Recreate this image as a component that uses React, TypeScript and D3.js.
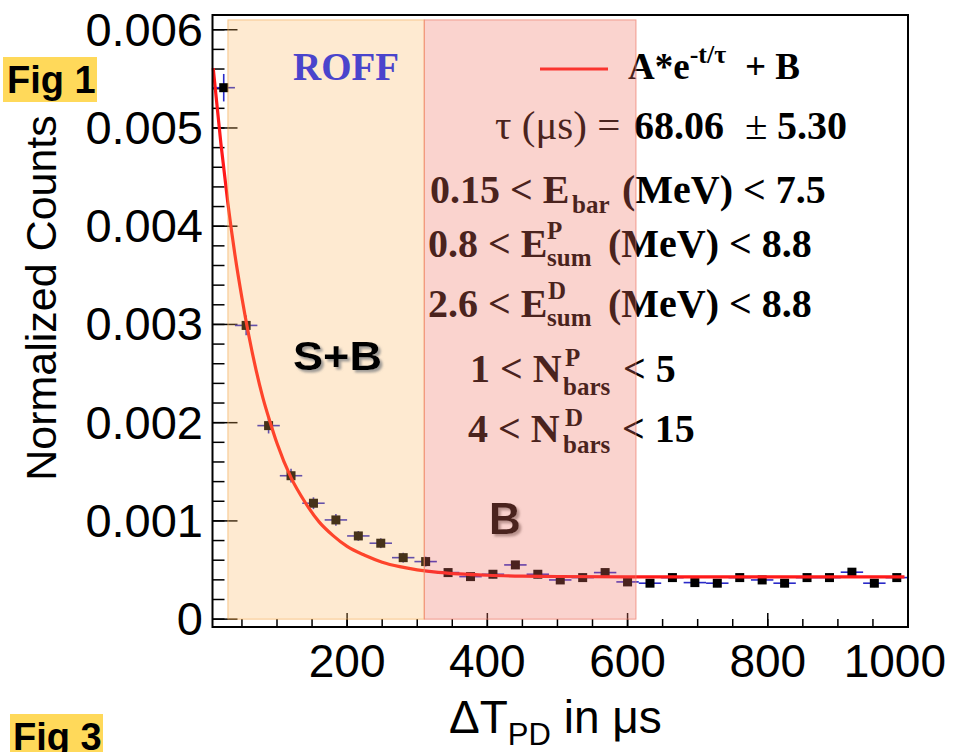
import React from "react";
import * as d3 from "d3";

// ---- data ----
const binCenters = [24, 56, 88, 120, 152, 184, 216, 248, 280, 312, 344, 376, 408, 440, 472, 504, 536, 568, 600, 632, 664, 696, 728, 760, 792, 824, 856, 888, 920, 952, 984];
const counts = [0.00541, 0.00299, 0.00197, 0.00146, 0.00118, 0.00101, 0.000847, 0.000773, 0.000626, 0.000586, 0.000474, 0.000433, 0.000457, 0.000552, 0.000457, 0.000399, 0.000423, 0.000474, 0.000379, 0.000366, 0.000423, 0.000372, 0.000366, 0.000423, 0.000399, 0.000366, 0.000423, 0.000423, 0.000478, 0.000366, 0.000423];
const countErrors = [0.00014, 0.0001, 0.00008, 0.00007, 0.00006, 0.00006, 0.00005, 0.00005, 0.00005, 0.00005, 0.00004, 0.00004, 0.00004, 0.00004, 0.00004, 0.00004, 0.00004, 0.00004, 0.00004, 0.00004, 0.00004, 0.00004, 0.00004, 0.00004, 0.00004, 0.00004, 0.00004, 0.00004, 0.00004, 0.00004, 0.00004];
const binHalfWidth = 16;

// fit curve A*exp(-t/tau)+B
const fitX = [9, 20, 30, 40, 50, 60, 70, 80, 90, 100, 120, 140, 160, 180, 200, 225, 250, 275, 300, 330, 360, 400, 450, 500, 600, 700, 800, 900, 995];
const fitY = [0.00561, 0.00484, 0.00423, 0.00371, 0.00327, 0.00288, 0.00254, 0.00225, 0.00201, 0.00179, 0.00144, 0.00119, 0.00099, 0.00085, 0.00074, 0.00065, 0.00058, 0.000534, 0.000502, 0.000476, 0.00046, 0.000447, 0.000438, 0.000434, 0.00043, 0.00043, 0.00043, 0.00043, 0.00043];

const xTickLabels = ["200", "400", "600", "800", "1000"];
const yTickLabels = ["0", "0.001", "0.002", "0.003", "0.004", "0.005", "0.006"];
const regionBounds = [30, 310, 612];
const regionTop = 0.0061;

const SANS = "'Liberation Sans', Arial, Helvetica, sans-serif";
const SERIF = "'Liberation Serif', 'Times New Roman', Times, serif";

export default function App() {
  const x = d3.scaleLinear().domain([8, 1000]).range([212.5, 908]);
  const y = d3.scaleLinear().domain([-0.00008, 0.00615]).range([627, 15]);
  const x0 = x.range()[0], x1 = x.range()[1];
  const yb = y.range()[0], yt = y.range()[1];

  const xMajor = x.ticks(5);
  const xMinor = x.ticks(20);
  const yMajor = y.ticks(6);
  const yMinor = y.ticks(30);

  const fitPts: [number, number][] = fitX.map((v, i) => [v, fitY[i]]);
  const fitLine = d3.line<[number, number]>().x(d => x(d[0])).y(d => y(d[1])).curve(d3.curveMonotoneX)(fitPts) || "";

  const lt = { fontFamily: SERIF, fontWeight: 700, fontSize: 40, fill: "#000" } as const;
  const SUB = 25;

  return (
    <svg width={967} height={752} style={{ position: "absolute", left: 0, top: 0, background: "#fff" }}>
      <defs>
        <filter id="shadow" x="-10%" y="-10%" width="130%" height="130%">
          <feDropShadow dx={2.5} dy={2.5} stdDeviation={0.8} floodColor="#888" floodOpacity={0.8} />
        </filter>
      </defs>
      <rect x={0} y={0} width={967} height={752} fill="#fff" />

      {/* ticks */}
      {yMinor.map((t, i) => (
        <line key={"ym" + i} x1={x0} x2={x0 + 12} y1={y(t)} y2={y(t)} stroke="#000" strokeWidth={1.5} />
      ))}
      {yMajor.map((t, i) => (
        <line key={"yM" + i} x1={x0} x2={x0 + 25} y1={y(t)} y2={y(t)} stroke="#000" strokeWidth={1.5} />
      ))}
      {xMinor.map((t, i) => (
        <line key={"xm" + i} x1={x(t)} x2={x(t)} y1={yb} y2={yb - 8} stroke="#000" strokeWidth={1.5} />
      ))}
      {xMajor.map((t, i) => (
        <line key={"xM" + i} x1={x(t)} x2={x(t)} y1={yb} y2={yb - 14} stroke="#000" strokeWidth={1.5} />
      ))}

      {/* data error bars */}
      {binCenters.map((c, i) => (
        <g key={"e" + i} stroke="#2a2ac8" strokeWidth={1.6}>
          <line x1={x(c - binHalfWidth)} x2={x(c + binHalfWidth)} y1={y(counts[i])} y2={y(counts[i])} />
          <line x1={x(c)} x2={x(c)} y1={y(counts[i] - countErrors[i])} y2={y(counts[i] + countErrors[i])} />
        </g>
      ))}
      {binCenters.map((c, i) => (
        <rect key={"m" + i} x={x(c) - 4.5} y={y(counts[i]) - 4.5} width={9} height={9} fill="#000" />
      ))}

      {/* fit curve */}
      <path d={fitLine} fill="none" stroke="#ff1a1a" strokeWidth={3.2} />

      {/* legend */}
      <line x1={540} x2={608} y1={69} y2={69} stroke="#ff1a1a" strokeWidth={3.2} />
      <text x={628} y={79} fontFamily={SERIF} fontWeight={700} fontSize={37}>
        A*e<tspan dy={-16} fontSize={26}>-t/τ</tspan>
        <tspan x={745} dy={16} fontSize={37}>+ B</tspan>
      </text>

      <text x={495} y={139} fontFamily={SERIF} fontSize={41} style={{ whiteSpace: "pre" }}>
        <tspan>τ (μs) = </tspan>
        <tspan x={634} fontWeight={700} fontSize={40}>68.06</tspan>
        <tspan x={745}>±</tspan>
        <tspan x={777} fontWeight={700} fontSize={40}>5.30</tspan>
      </text>

      {/* cut lines */}
      <text {...lt} x={430} y={203}>
        <tspan>0.15 &lt; E</tspan>
        <tspan x={572} y={213} fontSize={SUB}>bar</tspan>
        <tspan x={622} y={203}>(MeV) &lt; 7.5</tspan>
      </text>
      <text {...lt} x={428} y={257}>
        <tspan>0.8 &lt; E</tspan>
        <tspan x={547} y={239} fontSize={SUB}>P</tspan>
        <tspan x={547} y={266} fontSize={SUB}>sum</tspan>
        <tspan x={608} y={257}>(MeV) &lt; 8.8</tspan>
      </text>
      <text {...lt} x={428} y={317}>
        <tspan>2.6 &lt; E</tspan>
        <tspan x={548} y={299} fontSize={SUB}>D</tspan>
        <tspan x={547} y={326} fontSize={SUB}>sum</tspan>
        <tspan x={608} y={317}>(MeV) &lt; 8.8</tspan>
      </text>
      <text {...lt} x={470} y={382}>
        <tspan>1 &lt; N</tspan>
        <tspan x={565} y={366} fontSize={SUB}>P</tspan>
        <tspan x={563} y={395} fontSize={SUB}>bars</tspan>
        <tspan x={623} y={382}>&lt; 5</tspan>
      </text>
      <text {...lt} x={468} y={442}>
        <tspan>4 &lt; N</tspan>
        <tspan x={565} y={426} fontSize={SUB}>D</tspan>
        <tspan x={563} y={453} fontSize={SUB}>bars</tspan>
        <tspan x={622} y={442}>&lt; 15</tspan>
      </text>

      {/* B label (under overlay) */}
      <text x={489} y={534} fontFamily={SANS} fontWeight={700} fontSize={44} fill="#000" filter="url(#shadow)">B</text>

      {/* shaded regions */}
      <rect x={x(regionBounds[0])} y={y(regionTop)} width={x(regionBounds[1]) - x(regionBounds[0])} height={y(0) - y(regionTop)}
        fill="#fab45a" fillOpacity={0.28} stroke="#f4a850" strokeOpacity={0.6} strokeWidth={1} />
      <rect x={x(regionBounds[1])} y={y(regionTop)} width={x(regionBounds[2]) - x(regionBounds[1])} height={y(0) - y(regionTop)}
        fill="#f07060" fillOpacity={0.31} stroke="#ee7a6a" strokeOpacity={0.7} strokeWidth={1} />

      {/* S+B and ROFF */}
      <text x={293} y={370} fontFamily={SANS} fontWeight={700} fontSize={40} fill="#000" textLength={89} lengthAdjust="spacingAndGlyphs" filter="url(#shadow)">S+B</text>
      <text x={293} y={80} fontFamily={SERIF} fontWeight={700} fontSize={39} fill="#4a44cc">ROFF</text>

      {/* frame */}
      <rect x={x0} y={yt} width={x1 - x0} height={yb - yt} fill="none" stroke="#000" strokeWidth={2} />

      {/* tick labels */}
      {yMajor.map((t, i) => (
        <text key={"yl" + i} x={203} y={y(t) + 16} textAnchor="end" fontFamily={SANS} fontSize={47} fill="#000">{yTickLabels[i]}</text>
      ))}
      {xMajor.map((t, i) => (
        <text key={"xl" + i} x={i === xMajor.length - 1 ? 946 : x(t)} y={677} textAnchor={i === xMajor.length - 1 ? "end" : "middle"} fontFamily={SANS} fontSize={46} fill="#000">{xTickLabels[i]}</text>
      ))}

      {/* axis titles */}
      <text transform="translate(56,298) rotate(-90)" textAnchor="middle" fontFamily={SANS} fontSize={43} fill="#000">Normalized Counts</text>
      <text x={449} y={733} fontFamily={SANS} fontSize={46} fill="#000">
        ΔT<tspan dy={12} fontSize={31}>PD</tspan><tspan dy={-12}> in μs</tspan>
      </text>

      {/* Fig labels */}
      <rect x={3} y={57} width={94} height={45} fill="#ffd95a" />
      <text x={7} y={93} fontFamily={SANS} fontWeight={700} fontSize={38} fill="#000">Fig 1</text>
      <rect x={10} y={714} width={93} height={40} fill="#ffd95a" />
      <text x={13} y={750} fontFamily={SANS} fontWeight={700} fontSize={38} fill="#000">Fig 3</text>
    </svg>
  );
}
